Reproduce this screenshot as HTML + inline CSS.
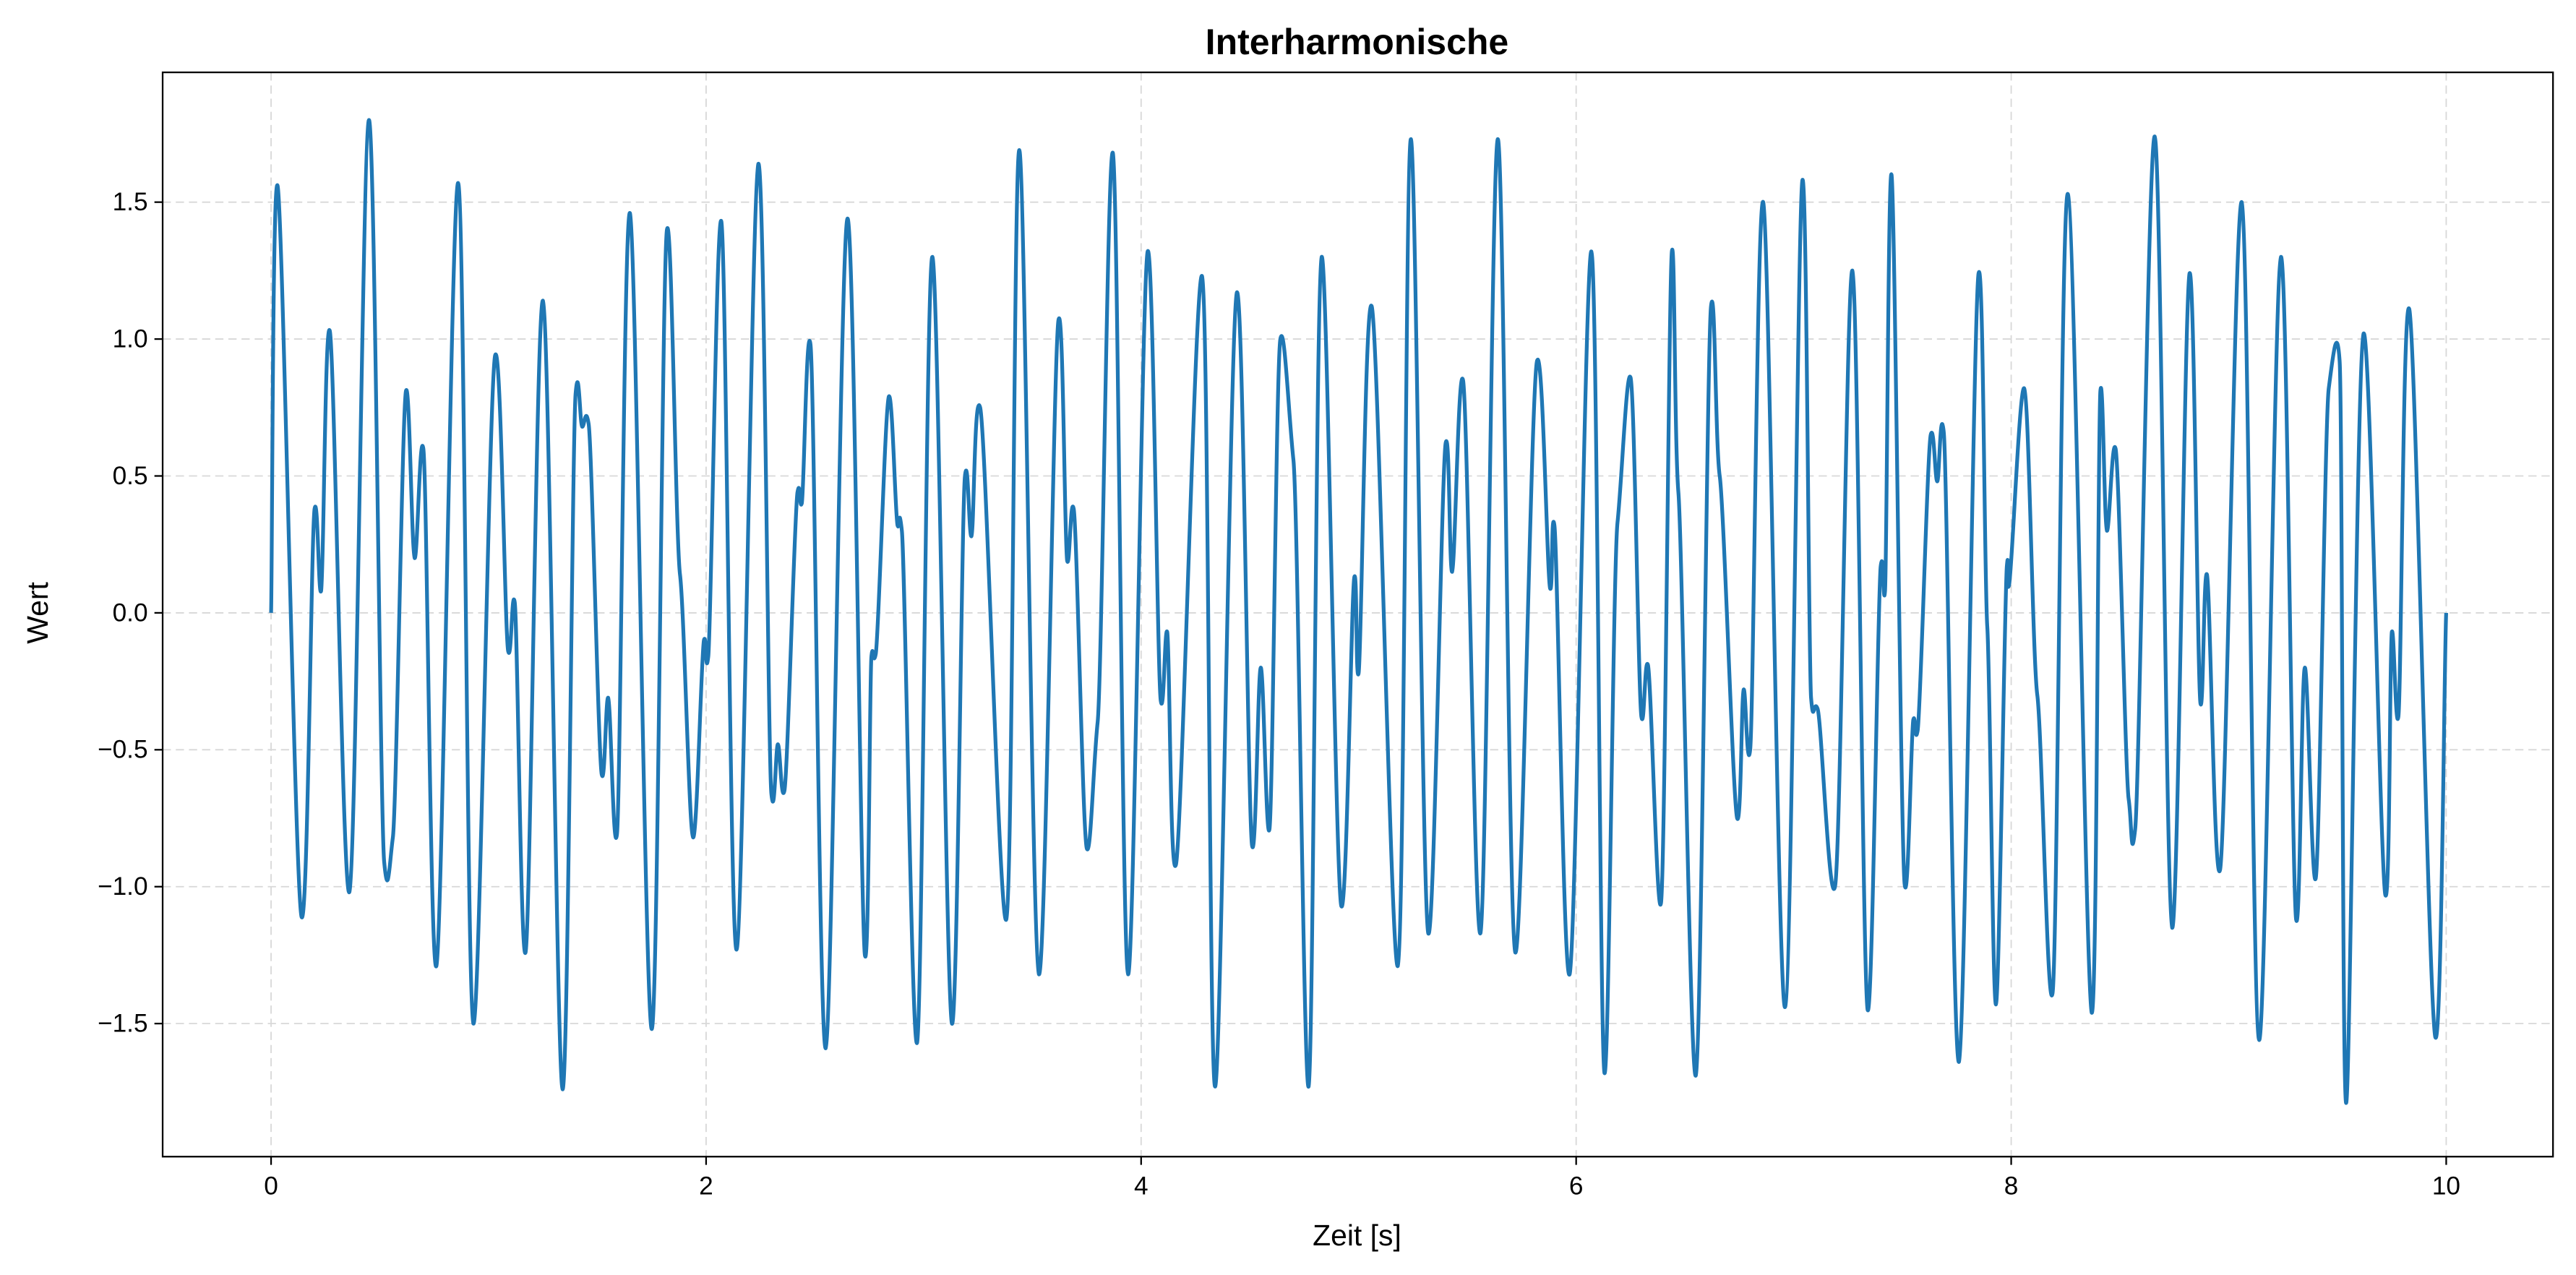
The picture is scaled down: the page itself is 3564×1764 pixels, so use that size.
<!DOCTYPE html>
<html><head><meta charset="utf-8"><style>
html,body{margin:0;padding:0;background:#fff}
svg{display:block}
text{font-family:"Liberation Sans","DejaVu Sans",sans-serif;fill:#000}
</style></head><body>
<svg id="chart" width="3564" height="1764" viewBox="0 0 1568 776" xmlns="http://www.w3.org/2000/svg">
<rect x="0" y="0" width="1568" height="776" fill="#fff"/>
<g id="grid"></g>
<g id="series"></g>
<rect x="99" y="44" width="1455" height="660" fill="none" stroke="#000" stroke-width="1"/>
<g id="ticks"></g>
<text x="826" y="33" text-anchor="middle" font-size="22" font-weight="bold">Interharmonische</text>
<text x="826" y="758" text-anchor="middle" font-size="18">Zeit [s]</text>
<text x="29" y="373" text-anchor="middle" font-size="18" transform="rotate(-90 29 373)">Wert</text>
</svg>
<script>
const xTicks=[0,2,4,6,8,10];
const yTicks=[-1.5,-1.0,-0.5,0.0,0.5,1.0,1.5];
const yTickLabels=["\u22121.5","\u22121.0","\u22120.5","0.0","0.5","1.0","1.5"];
const times=[0,0.03,0.14,0.20,0.23,0.27,0.36,0.45,0.52,0.56,0.62,0.66,0.70,0.76,0.86,0.93,1.03,1.09,1.12,1.17,1.25,1.34,1.40,1.43,1.46,1.52,1.55,1.59,1.65,1.75,1.82,1.88,1.94,1.99,2.01,2.07,2.14,2.24,2.30,2.33,2.36,2.42,2.44,2.48,2.55,2.65,2.73,2.76,2.78,2.84,2.88,2.90,2.97,3.04,3.13,3.19,3.22,3.26,3.38,3.44,3.53,3.62,3.66,3.69,3.75,3.80,3.87,3.94,4.03,4.09,4.12,4.16,4.28,4.34,4.44,4.51,4.55,4.59,4.64,4.70,4.77,4.83,4.92,4.98,5.00,5.06,5.18,5.24,5.32,5.40,5.43,5.48,5.56,5.64,5.72,5.82,5.88,5.90,5.97,6.07,6.13,6.19,6.25,6.30,6.33,6.39,6.44,6.47,6.55,6.62,6.66,6.74,6.77,6.80,6.86,6.96,7.04,7.08,7.11,7.19,7.27,7.34,7.40,7.42,7.45,7.51,7.55,7.57,7.63,7.66,7.69,7.76,7.85,7.89,7.93,7.98,7.99,8.06,8.12,8.19,8.26,8.37,8.41,8.44,8.48,8.54,8.57,8.66,8.74,8.82,8.87,8.90,8.96,9.06,9.14,9.24,9.31,9.35,9.40,9.46,9.51,9.54,9.62,9.72,9.75,9.78,9.83,9.95,10];
const values=[0,1.56,-1.11,0.38,0.08,1.03,-1.02,1.80,-0.91,-0.82,0.81,0.20,0.60,-1.29,1.57,-1.50,0.94,-0.14,0.04,-1.24,1.14,-1.74,0.80,0.68,0.69,-0.59,-0.31,-0.81,1.46,-1.52,1.40,0.14,-0.82,-0.10,-0.16,1.43,-1.23,1.64,-0.66,-0.48,-0.65,0.44,0.40,0.98,-1.59,1.44,-1.25,-0.16,-0.15,0.79,0.32,0.30,-1.57,1.30,-1.50,0.50,0.28,0.75,-1.12,1.69,-1.32,1.07,0.19,0.38,-0.86,-0.40,1.68,-1.32,1.32,-0.32,-0.07,-0.92,1.23,-1.73,1.17,-0.85,-0.20,-0.79,1.00,0.56,-1.73,1.30,-1.07,0.13,-0.22,1.12,-1.29,1.73,-1.17,0.62,0.15,0.85,-1.17,1.73,-1.24,0.92,0.09,0.32,-1.32,1.32,-1.68,0.33,0.86,-0.38,-0.19,-1.06,1.32,0.44,-1.69,1.12,0.50,-0.75,-0.28,-0.50,1.50,-1.44,1.58,-0.31,-0.35,-1.00,1.25,-1.45,0.17,0.08,1.60,-0.99,-0.39,-0.43,0.65,0.48,0.66,-1.64,1.24,-0.05,-1.43,0.17,0.10,0.82,-0.30,-1.39,1.53,-1.46,0.81,0.30,0.60,-0.68,-0.79,1.74,-1.15,1.24,-0.33,0.14,-0.94,1.50,-1.56,1.30,-1.12,-0.20,-0.97,0.82,0.92,-1.79,1.02,-1.03,-0.07,-0.38,1.11,-1.55,0];
const NS="http://www.w3.org/2000/svg";
const X0=99,X1=1554,Y0=44,Y1=704;
function xs(t){return 165+(t-0)*(1489-165)/10;}
function ys(v){return 373-v*(373-123)/1.5;}
const grid=document.getElementById('grid'),ticks=document.getElementById('ticks'),series=document.getElementById('series');
xTicks.forEach(t=>{
  const x=xs(t);
  const g=document.createElementNS(NS,'line');
  g.setAttribute('x1',x);g.setAttribute('x2',x);g.setAttribute('y1',Y0);g.setAttribute('y2',Y1);
  g.setAttribute('stroke','#d8d8d8');g.setAttribute('stroke-width','0.8');g.setAttribute('stroke-dasharray','5,3');
  
  
  grid.appendChild(g);
  const tk=document.createElementNS(NS,'line');
  tk.setAttribute('x1',x);tk.setAttribute('x2',x);tk.setAttribute('y1',Y1);tk.setAttribute('y2',Y1+5);tk.setAttribute('stroke','#000');
  
  
  ticks.appendChild(tk);
  const tx=document.createElementNS(NS,'text');
  tx.setAttribute('x',x);tx.setAttribute('y',Y1+23);tx.setAttribute('text-anchor','middle');tx.setAttribute('font-size','15.5');
  tx.textContent=String(t);
  
  
  ticks.appendChild(tx);
});
yTicks.forEach((v,i)=>{
  const y=ys(v);
  const g=document.createElementNS(NS,'line');
  g.setAttribute('x1',X0);g.setAttribute('x2',X1);g.setAttribute('y1',y);g.setAttribute('y2',y);
  g.setAttribute('stroke','#d8d8d8');g.setAttribute('stroke-width','0.8');g.setAttribute('stroke-dasharray','5,3');
  
  
  grid.appendChild(g);
  const tk=document.createElementNS(NS,'line');
  tk.setAttribute('x1',X0-5);tk.setAttribute('x2',X0);tk.setAttribute('y1',y);tk.setAttribute('y2',y);tk.setAttribute('stroke','#000');
  
  
  ticks.appendChild(tk);
  const tx=document.createElementNS(NS,'text');
  tx.setAttribute('x',X0-9);tx.setAttribute('y',y+5);tx.setAttribute('text-anchor','end');tx.setAttribute('font-size','15.5');
  tx.textContent=yTickLabels[i];
  
  
  ticks.appendChild(tx);
});
const P=times.map((t,i)=>[xs(t),ys(values[i])]);
let d='M'+P[0][0].toFixed(2)+','+P[0][1].toFixed(2);
for(let i=0;i<P.length-1;i++){
  const p0=P[Math.max(0,i-1)],p1=P[i],p2=P[i+1],p3=P[Math.min(P.length-1,i+2)];
  const k=1/6;
  const c1x=p1[0]+(p2[0]-p0[0])*k,c1y=p1[1]+(p2[1]-p0[1])*k*0.35;
  const c2x=p2[0]-(p3[0]-p1[0])*k,c2y=p2[1]-(p3[1]-p1[1])*k*0.35;
  d+=' C'+c1x.toFixed(2)+','+c1y.toFixed(2)+' '+c2x.toFixed(2)+','+c2y.toFixed(2)+' '+p2[0].toFixed(2)+','+p2[1].toFixed(2);
}
const path=document.createElementNS(NS,'path');
path.setAttribute('d',d);path.setAttribute('fill','none');path.setAttribute('stroke','#1f77b4');
path.setAttribute('stroke-width','2.3');path.setAttribute('stroke-linejoin','round');


series.appendChild(path);
</script>
</body></html>
